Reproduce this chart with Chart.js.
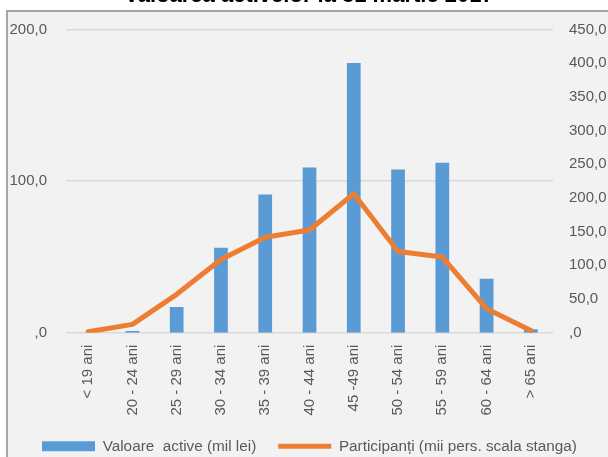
<!DOCTYPE html>
<html>
<head>
<meta charset="utf-8">
<script src="https://cdn.jsdelivr.net/npm/chart.js@4/dist/chart.umd.min.js"></script>
<style>
  html, body { margin: 0; padding: 0; background: #ffffff; overflow: hidden; }
  body { width: 608px; height: 457px; position: relative; }
  .frame {
    position: absolute; left: 6px; top: 10px; width: 700px; height: 500px;
    background: #f2f2f2; border: 2px solid #a6a6a6; box-sizing: border-box;
  }
  .wrap { position: absolute; left: 0; top: -20px; width: 608px; height: 484px; }
</style>
</head>
<body>
<div class="frame"></div>
<div class="wrap"><canvas id="chart"></canvas></div>
<script>
// Age groups
const categories = ['< 19 ani', '20 - 24 ani', '25 - 29 ani', '30 - 34 ani', '35 - 39 ani',
    '40 - 44 ani', '45 -49 ani', '50 - 54 ani', '55 - 59 ani', '60 - 64 ani', '> 65 ani'];

// Valoare active (mil lei) - right axis
const activeValues = [0, 2.4, 38, 126, 205, 245, 400, 242, 252, 80, 5];

// Participanti (mii pers.) - left axis
const participants = [0.6, 5.5, 25.3, 48.3, 63, 67.7, 91.6, 53.6, 49.9, 15.8, 1.5];

const leftTicks = [0, 100, 200];
const rightMax = 450;
const rightStep = 50;

const blue = '#5b9bd5';
const orange = '#ed7d31';
const ink = '#595959';
const grid = '#d9d9d9';

// Romanian style: 100,0 and ,0 for zero
function fmt(v) {
    const s = Number(v).toFixed(1).replace('.', ',');
    return s.startsWith('0,') ? s.slice(1) : s;
}

// Pin the legend row start and the title centre where the original has them.
const shiftBlocks = {
    id: 'shiftBlocks',
    afterLayout(chart) {
        if (chart.legend) chart.legend.left = 20;
        if (chart.titleBlock) {
            chart.titleBlock.left = 0;
            chart.titleBlock.right = 618;
        }
    },
};

Chart.defaults.font.family = "'Liberation Sans', Arial, sans-serif";
Chart.defaults.color = ink;

new Chart(document.getElementById('chart'), {
    data: {
        labels: categories,
        datasets: [
            {
                type: 'line',
                label: 'Participanți (mii pers. scala stanga)',
                data: participants,
                yAxisID: 'yLeft',
                borderColor: orange,
                backgroundColor: orange,
                borderWidth: 5,
                borderCapStyle: 'round',
                borderJoinStyle: 'round',
                pointRadius: 0,
                tension: 0,
                order: 0,
            },
            {
                type: 'bar',
                label: 'Valoare  active (mil lei)',
                data: activeValues,
                yAxisID: 'yRight',
                backgroundColor: blue,
                barPercentage: 0.31,
                categoryPercentage: 1,
                order: 1,
            },
        ],
    },
    options: {
        responsive: true,
        maintainAspectRatio: false,
        animation: false,
        layout: { padding: 0 },
        scales: {
            x: {
                afterFit: (s) => { s.height = 84; },
                grid: { display: false, drawTicks: false },
                border: { display: false },
                ticks: {
                    minRotation: 90,
                    maxRotation: 90,
                    padding: 12,
                    font: { size: 15 },
                    color: ink,
                },
            },
            yLeft: {
                position: 'left',
                min: 0,
                max: 200,
                afterBuildTicks: (s) => { s.ticks = leftTicks.map((v) => ({ value: v })); },
                afterFit: (s) => { s.width = 66; },
                grid: { color: grid, lineWidth: 1.5, drawTicks: false },
                border: { display: false },
                ticks: { padding: 19, font: { size: 15 }, color: ink, callback: (v) => fmt(v) },
            },
            yRight: {
                position: 'right',
                min: 0,
                max: rightMax,
                afterFit: (s) => { s.width = 55; },
                grid: { display: false, drawTicks: false },
                border: { display: false },
                ticks: { stepSize: rightStep, padding: 16, font: { size: 15 }, color: ink, callback: (v) => fmt(v) },
            },
        },
        plugins: {
            title: {
                display: true,
                text: 'Valoarea activelor la 31 martie 2017',
                color: '#000000',
                font: { size: 22, weight: 'bold' },
                padding: { top: 3, bottom: 20 },
            },
            tooltip: { enabled: false },
            legend: {
                position: 'bottom',
                align: 'start',
                labels: {
                    usePointStyle: true,
                    pointStyleWidth: 53,
                    boxHeight: 10,
                    padding: 22,
                    font: { size: 15.3 },
                    color: ink,
                    generateLabels: (chart) => {
                        const ds = chart.data.datasets;
                        return [
                            { text: ds[1].label, fillStyle: blue, strokeStyle: blue, lineWidth: 0,
                              pointStyle: 'rect', datasetIndex: 1, fontColor: ink },
                            { text: ds[0].label, fillStyle: orange, strokeStyle: orange, lineWidth: 5,
                              pointStyle: 'line', datasetIndex: 0, fontColor: ink },
                        ];
                    },
                },
            },
        },
    },
    plugins: [shiftBlocks],
});
</script>
</body>
</html>
